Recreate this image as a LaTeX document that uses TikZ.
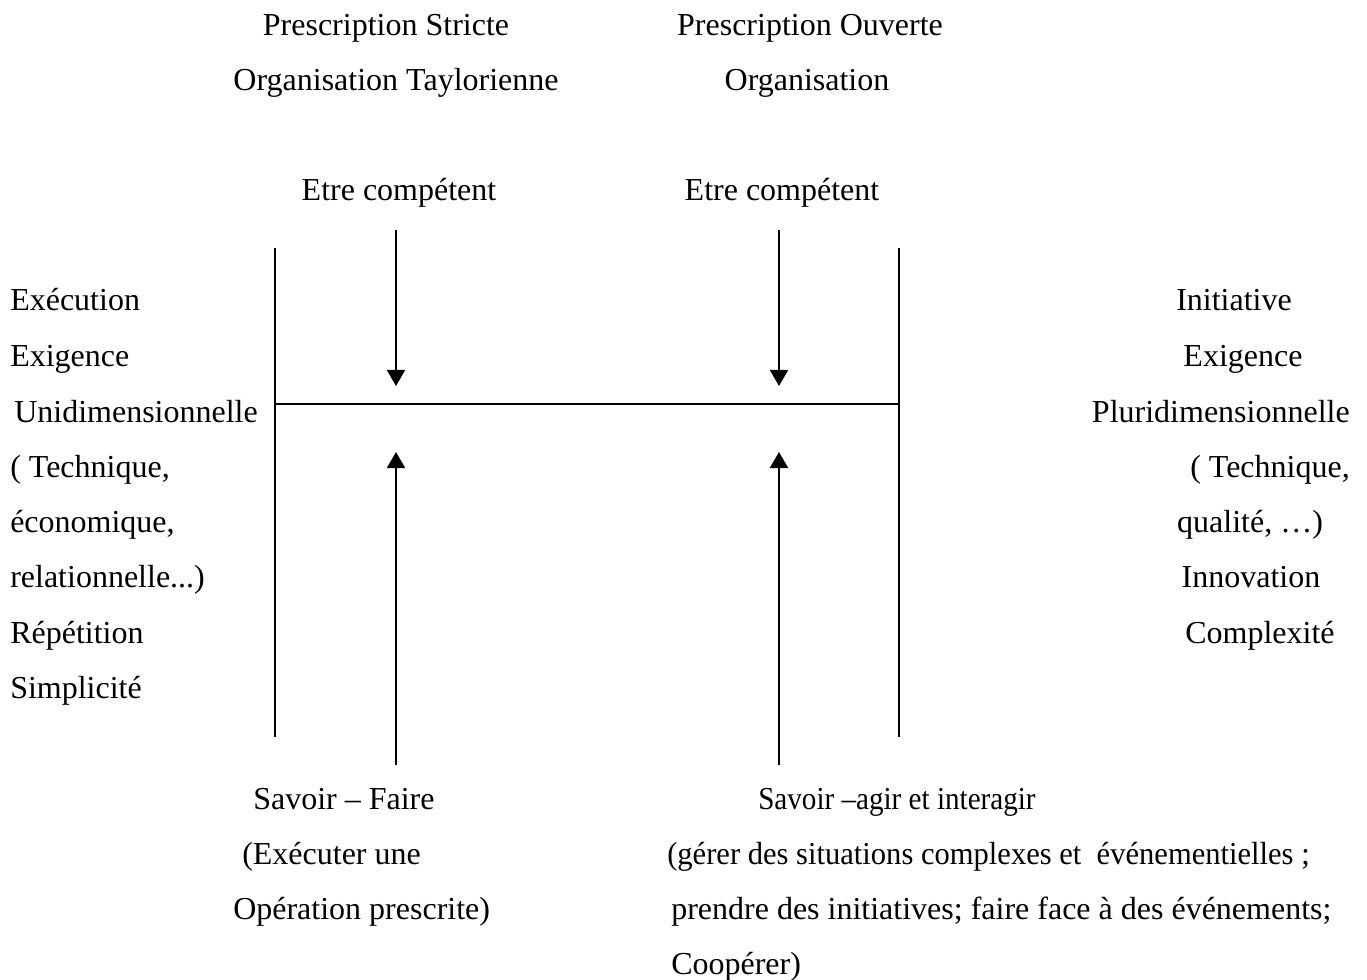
\documentclass[tikz,border=0pt]{standalone}
\usepackage{fontspec}
\setmainfont{Liberation Serif}
\usetikzlibrary{arrows.meta}
\begin{document}
\begin{tikzpicture}[x=0.75pt,y=-0.75pt,
  lbl/.style={inner sep=0pt,text height=17pt,text depth=5pt,yshift=-2.25pt,font=\fontsize{24}{28}\selectfont},
  rule/.style={line width=1.5pt},
  push/.style={line width=1.5pt,-{Triangle[width=13.5pt,length=12pt]}}]
\useasboundingbox (0,0) rectangle (1367,980);

% column headings
\node[lbl] (ps) at (386,25) {Prescription Stricte};
\node[lbl] (ot) at (396,80) {Organisation Taylorienne};
\node[lbl] (po) at (810,25) {Prescription Ouverte};
\node[lbl] (oo) at (807,80) {Organisation};
\node[lbl] (ec1) at (399,190) {Etre compétent};
\node[lbl] (ec2) at (782,190) {Etre compétent};

% frame: two posts and the bar between them
\coordinate (lt) at (275,248); \coordinate (lb) at (275,737);
\coordinate (rt) at (899,248); \coordinate (rb) at (899,737);
\coordinate (bl) at (275,404); \coordinate (br) at (899,404);
\draw[rule] (lt) -- (lb);
\draw[rule] (rt) -- (rb);
\draw[rule] (bl) -- (br);

% arrows pressing on the bar
\coordinate (d1s) at (396,230); \coordinate (d1e) at (396,386);
\coordinate (d2s) at (779,230); \coordinate (d2e) at (779,386);
\coordinate (u1s) at (396,765); \coordinate (u1e) at (396,452);
\coordinate (u2s) at (779,765); \coordinate (u2e) at (779,452);
\draw[push] (d1s) -- (d1e);
\draw[push] (d2s) -- (d2e);
\draw[push] (u1s) -- (u1e);
\draw[push] (u2s) -- (u2e);

% left column
\node[lbl,anchor=west] (l1) at (10,300) {Exécution};
\node[lbl,anchor=west] (l2) at (10,356) {Exigence};
\node[lbl,anchor=west] (l3) at (14,411) {Unidimensionnelle};
\node[lbl,anchor=west] (l4) at (10,466) {( Technique,};
\node[lbl,anchor=west] (l5) at (10,521) {économique,};
\node[lbl,anchor=west] (l6) at (10,576) {relationnelle...)};
\node[lbl,anchor=west] (l7) at (10,632) {Répétition};
\node[lbl,anchor=west] (l8) at (10,687) {Simplicité};

% right column
\node[lbl] (r1) at (1234,300) {Initiative};
\node[lbl] (r2) at (1243,356) {Exigence};
\node[lbl,anchor=east] (r3) at (1350,411) {Pluridimensionnelle};
\node[lbl,anchor=east] (r4) at (1350,466) {( Technique,};
\node[lbl] (r5) at (1250,521) {qualité, …)};
\node[lbl] (r6) at (1251,576) {Innovation};
\node[lbl,anchor=west] (r7) at (1185,632) {Complexité};

% bottom left
\node[lbl,anchor=west] (b1) at (253,798) {Savoir – Faire};
\node[lbl,anchor=west] (b2) at (242,853) {(Exécuter une};
\node[lbl,anchor=west] (b3) at (233,908) {Opération prescrite)};

% bottom right
\node[lbl,anchor=west] (c1) at (758,798) {\scalebox{0.91}[1]{Savoir –agir et interagir}};
\node[lbl,anchor=west] (c2) at (667,853) {\scalebox{0.955}[1]{(gérer des situations complexes et \ événementielles ;}};
\node[lbl,anchor=west] (c3) at (671,908) {prendre des initiatives; faire face à des événements;};
\node[lbl,anchor=west] (c4) at (671,963) {Coopérer)};
\end{tikzpicture}
\end{document}
